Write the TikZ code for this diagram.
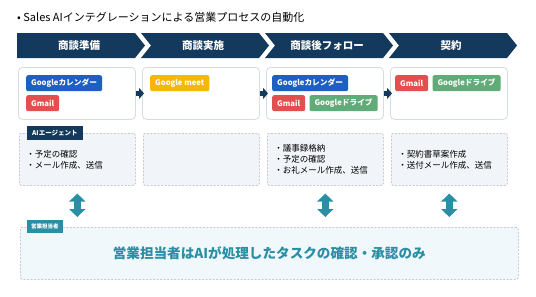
\documentclass[tikz,border=0pt]{standalone}
\usepackage{fontspec}
\setmainfont{Noto Sans CJK JP}
\usetikzlibrary{arrows.meta,positioning}
\definecolor{navy}{HTML}{133A5C}
\definecolor{salesteal}{HTML}{2A8FA4}
\definecolor{gblue}{HTML}{1D5FC2}
\definecolor{gred}{HTML}{E24F4F}
\definecolor{gyellow}{HTML}{F7B708}
\definecolor{ggreen}{HTML}{5FAC78}
\definecolor{boxline}{HTML}{D6DCE3}
\definecolor{dashline}{HTML}{AAB4BE}
\definecolor{agentfill}{HTML}{F1F5F9}
\definecolor{crewfill}{HTML}{F0F8FB}
\tikzset{
  phasetext/.style={text=white, font=\fontsize{10.5}{12}\selectfont\bfseries},
  toolbox/.style={draw=boxline, fill=white, rounded corners=4pt, line width=0.8pt, minimum width=117pt, minimum height=52pt, anchor=north west},
  tooltag/.style={rounded corners=2pt, text=white, font=\fontsize{7.7}{9}\selectfont\bfseries, minimum height=16pt, inner xsep=5pt, inner ysep=0pt, anchor=north west},
  agentbox/.style={draw=dashline, fill=agentfill, dash pattern=on 2pt off 1.5pt, line width=0.6pt, rounded corners=2pt, minimum width=116pt, minimum height=52pt, text width=102pt, inner xsep=7pt, align=left, anchor=north west, font=\fontsize{8.5}{11}\selectfont},
  flow/.style={navy, line width=4.5pt, -{Triangle[width=11pt,length=5pt]}, shorten >=-2pt},
  sync/.style={salesteal, line width=7pt, {Triangle[width=16pt,length=8pt]}-{Triangle[width=16pt,length=8pt]}, shorten <=8pt, shorten >=10pt},
}
\begin{document}
\begin{tikzpicture}[x=1pt,y=-1pt]
  %
  \useasboundingbox[fill=white] (0,0) rectangle (536,297);
  \node[anchor=west, inner sep=0pt, font=\fontsize{11}{13}\selectfont] (title) at (17,17) {• Sales AIインテグレーションによる営業プロセスの自動化};
  %
  % phases
  \foreach \i/\name in {0/商談準備,1/商談実施,2/商談後フォロー,3/契約} {
    \pgfmathsetmacro\xa{17+124*\i}
    \pgfmathsetmacro\nd{\i==0 ? 0 : 10}
    \fill[navy] (\xa,33) -- ({\xa+118},33) -- ({\xa+128},45.5) -- ({\xa+118},58) -- (\xa,58) -- ({\xa+\nd},45.5) -- cycle;
    \node[phasetext] (phase\i) at ({\xa+62},45.5) {\name};
    \node[toolbox] (tools\i) at ({\xa+1},67) {};
  }
  %
  % tools
  \node[tooltag, fill=gblue] (cal0) at (26,75) {Googleカレンダー};
  \node[tooltag, fill=gred] (mail0) at (26,95) {Gmail};
  \node[tooltag, fill=gyellow] (meet1) at (150,75) {Google meet};
  \node[tooltag, fill=gblue] (cal2) at (272,75) {Googleカレンダー};
  \node[tooltag, fill=gred] (mail2) at (272,95) {Gmail};
  \node[tooltag, fill=ggreen, right=4pt of mail2] (drive2) {Googleドライブ};
  \node[tooltag, fill=gred] (mail3) at (395,75) {Gmail};
  \node[tooltag, fill=ggreen, right=4pt of mail3] (drive3) {Googleドライブ};
  %
  \foreach \a/\b in {0/1,1/2,2/3}
    \draw[flow] (tools\a.east) -- (tools\b.west);
  %
  % AI agent
  \foreach \i/\task in {0/{・予定の確認\\・メール作成、送信},1/{},2/{・議事録格納\\・予定の確認\\・お礼メール作成、送信},3/{・契約書草案作成\\・送付メール作成、送信}} {
    \node[agentbox] (agent\i) at ({19+124*\i},133) {\task};
  }
  \node[fill=navy, text=white, inner xsep=5pt, inner ysep=0pt, minimum height=14pt, anchor=north west, font=\fontsize{6.5}{8}\selectfont\bfseries] (aitag) at (27,126) {AIエージェント};
  %
  % sales rep
  \node[draw=dashline, fill=crewfill, dash pattern=on 2pt off 1.5pt, line width=0.6pt, rounded corners=2pt, minimum width=498pt, minimum height=52pt, anchor=north west, text=salesteal, font=\fontsize{13.6}{16}\selectfont\bfseries] (crew) at (20,227) {営業担当者はAIが処理したタスクの確認・承認のみ};
  \node[fill=salesteal, text=white, inner xsep=4pt, inner ysep=0pt, minimum height=13pt, anchor=north west, font=\fontsize{5.5}{7}\selectfont\bfseries] (crewtag) at (27,220) {営業担当者};
  %
  \foreach \i in {0,2,3}
    \draw[sync] (agent\i.south) -- (agent\i.south |- crew.north);
\end{tikzpicture}
\end{document}
